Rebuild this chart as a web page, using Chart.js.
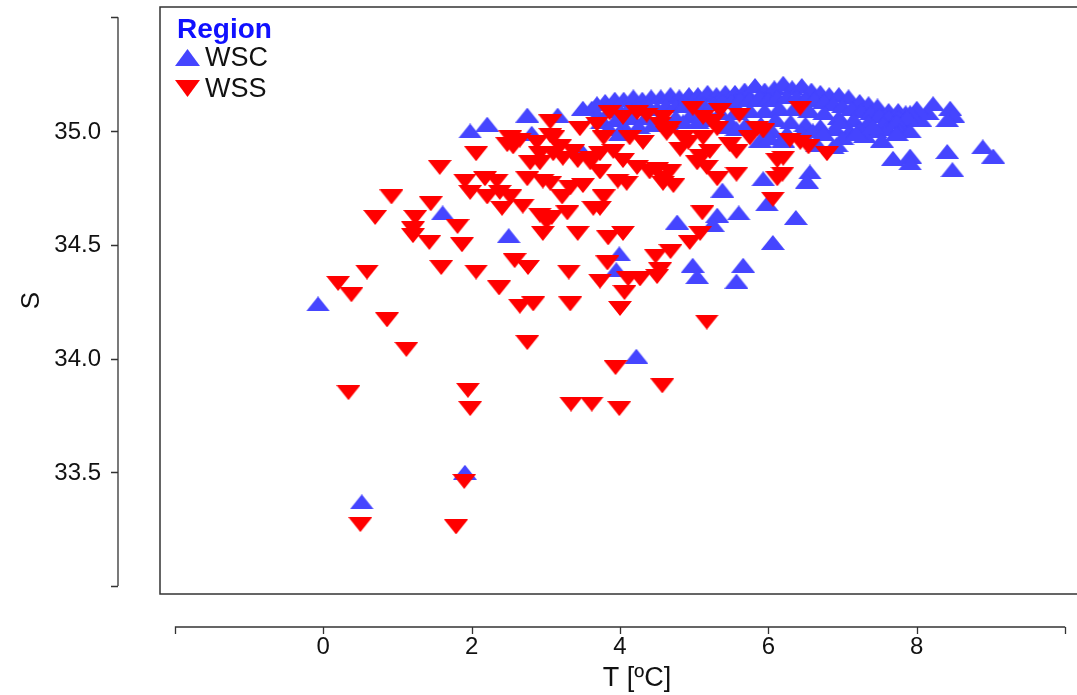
<!DOCTYPE html>
<html>
<head>
<meta charset="utf-8">
<script src="https://cdn.jsdelivr.net/npm/chart.js@4.4.1/dist/chart.umd.min.js"></script>
<style>
  html, body { margin: 0; padding: 0; background: #fff; overflow: hidden; }
  #wrap { position: relative; width: 1090px; height: 695px; }
</style>
</head>
<body>
<div id="wrap"><canvas id="chart"></canvas></div>
<script>
// T [ºC], S pairs
var wscPoints = [
  // dense band along the top
  [3.62,35.10],[3.80,35.13],[3.93,35.14],[4.05,35.14],[4.18,35.15],[4.30,35.14],[4.42,35.15],[4.55,35.15],
  [4.68,35.16],[4.80,35.15],[4.93,35.16],[5.05,35.16],[5.18,35.17],[5.30,35.16],[5.42,35.17],[5.55,35.17],
  [5.68,35.18],[5.82,35.20],[5.95,35.18],[6.08,35.19],[6.20,35.21],[6.32,35.19],[6.45,35.20],[6.58,35.18],
  [6.70,35.17],[6.82,35.16],[6.95,35.16],[7.08,35.15],[7.23,35.13],[7.35,35.12],[7.47,35.11],[7.62,35.09],
  [7.75,35.09],[7.85,35.08],
  [3.70,35.07],[3.86,35.09],[4.00,35.09],[4.12,35.10],[4.25,35.10],[4.38,35.11],[4.50,35.10],[4.62,35.11],
  [4.75,35.11],[4.88,35.12],[5.00,35.11],[5.12,35.12],[5.25,35.12],[5.38,35.13],[5.50,35.13],[5.62,35.14],
  [5.75,35.14],[5.88,35.15],[6.00,35.14],[6.12,35.15],[6.25,35.15],[6.38,35.15],[6.50,35.14],[6.62,35.14],
  [6.75,35.13],[6.88,35.12],[7.00,35.11],[7.12,35.10],[7.25,35.09],[7.38,35.08],[7.50,35.07],[7.62,35.06],
  [7.75,35.06],[7.88,35.05],
  [3.75,35.04],[3.95,35.05],[4.15,35.06],[4.35,35.06],[4.55,35.06],[4.75,35.06],[4.95,35.07],[5.15,35.07],
  [5.35,35.08],[5.55,35.08],[5.75,35.09],[5.95,35.09],[6.15,35.10],[6.35,35.10],[6.55,35.09],[6.75,35.08],
  [6.95,35.06],[7.15,35.05],[7.35,35.04],[7.55,35.03],
  [5.45,35.02],[5.70,35.03],[5.90,35.03],[6.10,35.05],[6.30,35.04],[6.50,35.03],[6.70,35.02],[6.90,35.01],
  [7.10,35.00],
  [3.85,35.01],[4.05,35.02],[4.25,35.02],[4.45,35.03],[4.65,35.03],[4.85,35.04],[5.05,35.04],[5.25,35.05],
  [6.05,35.00],[6.25,34.99],[6.45,34.99],[6.60,35.00],[7.00,34.97],[7.30,34.98],[7.45,35.00],[7.60,35.01],
  [7.80,35.02],[8.05,35.05],[8.15,35.08],
  // scattered
  [8.22,35.12],[8.45,35.10],[8.49,35.07],[8.00,35.10],[7.91,35.08],[7.87,35.06],[8.41,35.05],[7.23,35.01],
  [7.19,34.99],[7.41,35.02],[7.73,35.04],[7.77,35.00],[7.91,35.00],[7.53,34.96],[7.73,34.99],[6.87,34.93],
  [7.68,34.88],[7.91,34.89],[7.91,34.86],[8.41,34.91],[8.48,34.83],[8.89,34.93],[9.03,34.89],[6.74,34.99],
  [6.92,34.94],[6.66,34.94],[6.96,35.04],[5.89,34.96],[6.02,34.97],[6.20,34.96],[5.48,35.04],[5.57,35.01],
  [5.93,34.79],[6.56,34.82],[6.52,34.78],[5.38,34.74],[5.98,34.68],[6.37,34.62],[5.60,34.64],[5.31,34.63],
  [5.25,34.59],[4.77,34.60],[6.06,34.51],[4.98,34.41],[5.04,34.36],[5.66,34.41],[5.57,34.34],[3.99,34.46],
  [3.95,34.39],[4.22,34.01],[2.50,34.54],[1.61,34.64],[-0.07,34.24],[0.52,33.37],[1.91,33.50],[2.21,35.03],
  [1.98,35.00],[2.75,35.07],[3.16,35.07],[2.81,34.99],[3.50,35.10],[3.69,35.12],[3.49,34.91],[4.00,34.99]
];

var wssPoints = [
  [0.38,34.28],[0.20,34.33],[0.59,34.38],[0.86,34.17],[1.12,34.04],[0.34,33.85],[1.95,33.86],[1.98,33.78],
  [1.90,33.46],[0.50,33.27],[1.79,33.26],[2.75,34.07],[3.94,33.96],[4.57,33.88],[3.34,33.80],[3.62,33.80],
  [3.99,33.78],[5.17,34.16],[2.37,34.31],[2.65,34.23],[2.83,34.24],[3.33,34.24],[4.06,34.29],[4.00,34.22],
  [3.73,34.34],[4.11,34.35],[4.27,34.35],[4.50,34.36],[4.54,34.39],[3.31,34.38],[2.58,34.43],[2.76,34.40],
  [2.06,34.38],[1.59,34.40],[3.83,34.42],[4.48,34.45],[4.68,34.47],[4.94,34.51],[5.08,34.55],[5.11,34.64],
  [6.06,34.70],[2.96,34.55],[3.43,34.55],[3.84,34.53],[4.04,34.55],
  [2.06,34.90],[1.57,34.84],[0.92,34.71],[0.70,34.62],[1.24,34.62],[1.45,34.68],[1.21,34.57],[1.21,34.54],
  [1.81,34.58],[1.43,34.51],[1.87,34.50],[1.91,34.78],[2.18,34.79],[2.34,34.78],[1.98,34.73],[2.21,34.71],
  [2.38,34.73],[2.52,34.71],[2.41,34.66],[2.75,34.79],[2.96,34.78],[3.06,34.77],[2.69,34.67],[2.92,34.63],
  [3.08,34.62],[3.01,34.60],[3.22,34.71],[3.29,34.64],[3.50,34.76],[3.43,34.87],[3.60,34.88],[3.64,34.66],
  [3.73,34.66],[2.79,34.86],[2.92,34.90],[2.56,34.93],[2.52,34.97],[3.19,34.93],[3.37,34.91],[3.10,34.97],
  [2.48,34.94],[2.65,34.96],[2.88,34.95],[3.06,34.98],[3.06,35.04],[2.92,34.86],[3.10,34.90],[3.23,34.88],
  [3.33,34.75],[3.46,35.01],[3.69,35.03],[3.86,35.08],[3.78,34.97],[3.73,34.90],[3.91,34.91],[4.04,35.06],
  [4.23,35.08],[4.36,35.07],[4.13,34.97],[4.31,34.95],[4.04,34.87],[4.23,34.84],[4.40,34.82],[4.58,34.79],
  [4.58,35.06],[4.63,34.99],[3.60,34.86],[3.73,34.82],[3.97,34.78],[4.09,34.77],[4.98,35.10],[5.12,35.06],
  [5.35,35.09],[5.61,35.07],[6.43,35.10],[4.54,35.03],[4.67,35.01],[5.25,35.04],[5.31,35.01],[5.85,35.01],
  [5.93,35.00],[4.85,34.97],[4.81,34.92],[4.92,34.95],[5.12,34.97],[5.21,34.91],[5.48,34.94],[5.57,34.91],
  [5.75,34.97],[6.29,34.96],[6.43,34.95],[6.12,34.87],[6.20,34.88],[4.50,34.83],[4.67,34.82],[4.58,34.77],
  [4.72,34.76],[5.08,34.89],[5.04,34.86],[5.17,34.84],[5.31,34.79],[5.57,34.81],[6.79,34.90],[6.12,34.79],
  [6.54,34.93],[6.19,34.81],[3.78,34.71]
];

var seriesNames = ['WSC', 'WSS'];
var legendTitle = 'Region';
var xTicks = [0, 2, 4, 6, 8];
var xAxisEnds = [-2, 10];
var yTicks = [33.5, 34.0, 34.5, 35.0];
var yAxisEnds = [33.0, 35.5];
var xTitle = 'T [ºC]';
var yTitle = 'S';

var blue = '#4545FF';
var red = '#FF0000';

function makeTriangle(w, h, color, down) {
  var c = document.createElement('canvas');
  c.width = w;
  c.height = h;
  var g = c.getContext('2d');
  g.fillStyle = color;
  g.beginPath();
  if (down) {
    g.moveTo(0, 0); g.lineTo(w, 0); g.lineTo(w / 2, h);
  } else {
    g.moveTo(w / 2, 0); g.lineTo(w, h); g.lineTo(0, h);
  }
  g.closePath();
  g.fill();
  return c;
}

var upMark = makeTriangle(24, 15, blue, false);
var downMark = makeTriangle(24, 15, red, true);
var upLegend = makeTriangle(25, 17, blue, false);
var downLegend = makeTriangle(25, 17, red, true);

function toXY(list) {
  return list.map(function (p) { return {x: p[0], y: p[1]}; });
}

var FONT = '"Liberation Sans", Arial, sans-serif';

// R-style detached axes, box and legend
var rAxes = {
  id: 'rAxes',
  afterDraw: function (chart) {
    var ctx = chart.ctx;
    var a = chart.chartArea;
    var xs = chart.scales.x;
    var ys = chart.scales.y;
    ctx.save();

    ctx.strokeStyle = '#333';
    ctx.lineWidth = 1.5;
    ctx.strokeRect(a.left, a.top, a.right - a.left, a.bottom - a.top);

    ctx.lineWidth = 1.3;
    ctx.fillStyle = '#111';
    ctx.font = '24px ' + FONT;

    // y axis
    var yx = 118, tl = 7;
    var y0 = ys.getPixelForValue(yAxisEnds[0]);
    var y1 = ys.getPixelForValue(yAxisEnds[1]);
    ctx.beginPath();
    ctx.moveTo(yx, y0); ctx.lineTo(yx, y1);
    yAxisEnds.concat(yTicks).forEach(function (v) {
      var py = Math.round(ys.getPixelForValue(v)) + 0.5;
      ctx.moveTo(yx - tl, py); ctx.lineTo(yx, py);
    });
    ctx.stroke();
    ctx.textAlign = 'right';
    ctx.textBaseline = 'middle';
    yTicks.forEach(function (v) {
      ctx.fillText(v.toFixed(1), 101, ys.getPixelForValue(v) + 1);
    });

    // x axis
    var xy = 627;
    var x0 = xs.getPixelForValue(xAxisEnds[0]);
    var x1 = xs.getPixelForValue(xAxisEnds[1]);
    ctx.beginPath();
    ctx.moveTo(x0, xy); ctx.lineTo(x1, xy);
    xAxisEnds.concat(xTicks).forEach(function (v) {
      var px = Math.round(xs.getPixelForValue(v)) + 0.5;
      ctx.moveTo(px, xy); ctx.lineTo(px, xy + tl);
    });
    ctx.stroke();
    ctx.textAlign = 'center';
    xTicks.forEach(function (v) {
      ctx.fillText(String(v), xs.getPixelForValue(v), 647);
    });

    // titles
    ctx.font = '27px ' + FONT;
    ctx.fillText(xTitle, 637, 679);
    ctx.save();
    ctx.translate(32, (a.top + a.bottom) / 2);
    ctx.rotate(-Math.PI / 2);
    ctx.font = '26px ' + FONT;
    ctx.fillText(yTitle, 0, 0);
    ctx.restore();

    // legend
    ctx.textAlign = 'left';
    ctx.fillStyle = '#1010FF';
    ctx.font = 'bold 28px ' + FONT;
    ctx.fillText(legendTitle, 177, 30);
    ctx.fillStyle = '#111';
    ctx.font = '27px ' + FONT;
    ctx.drawImage(upLegend, 175, 49);
    ctx.fillText(seriesNames[0], 205, 59);
    ctx.drawImage(downLegend, 175, 80);
    ctx.fillText(seriesNames[1], 205, 90);

    ctx.restore();
  }
};

var chart = new Chart(document.getElementById('chart'), {
  type: 'scatter',
  data: {
    datasets: [
      {
        label: seriesNames[0],
        data: toXY(wscPoints),
        pointStyle: upMark,
        pointRadius: 7,
        backgroundColor: blue,
        borderWidth: 0,
        order: 2
      },
      {
        label: seriesNames[1],
        data: toXY(wssPoints),
        pointStyle: downMark,
        pointRadius: 7,
        backgroundColor: red,
        borderWidth: 0,
        order: 1
      }
    ]
  },
  options: {
    responsive: true,
    maintainAspectRatio: false,
    animation: false,
    events: [],
    layout: { padding: { left: 160, top: 6, right: 10, bottom: 101 } },
    scales: {
      x: { type: 'linear', min: -2.2, max: 10.2, display: false },
      y: { type: 'linear', min: 32.965, max: 35.545, display: false }
    },
    plugins: {
      legend: { display: false },
      tooltip: { enabled: false }
    }
  },
  plugins: [rAxes]
});
</script>
</body>
</html>
